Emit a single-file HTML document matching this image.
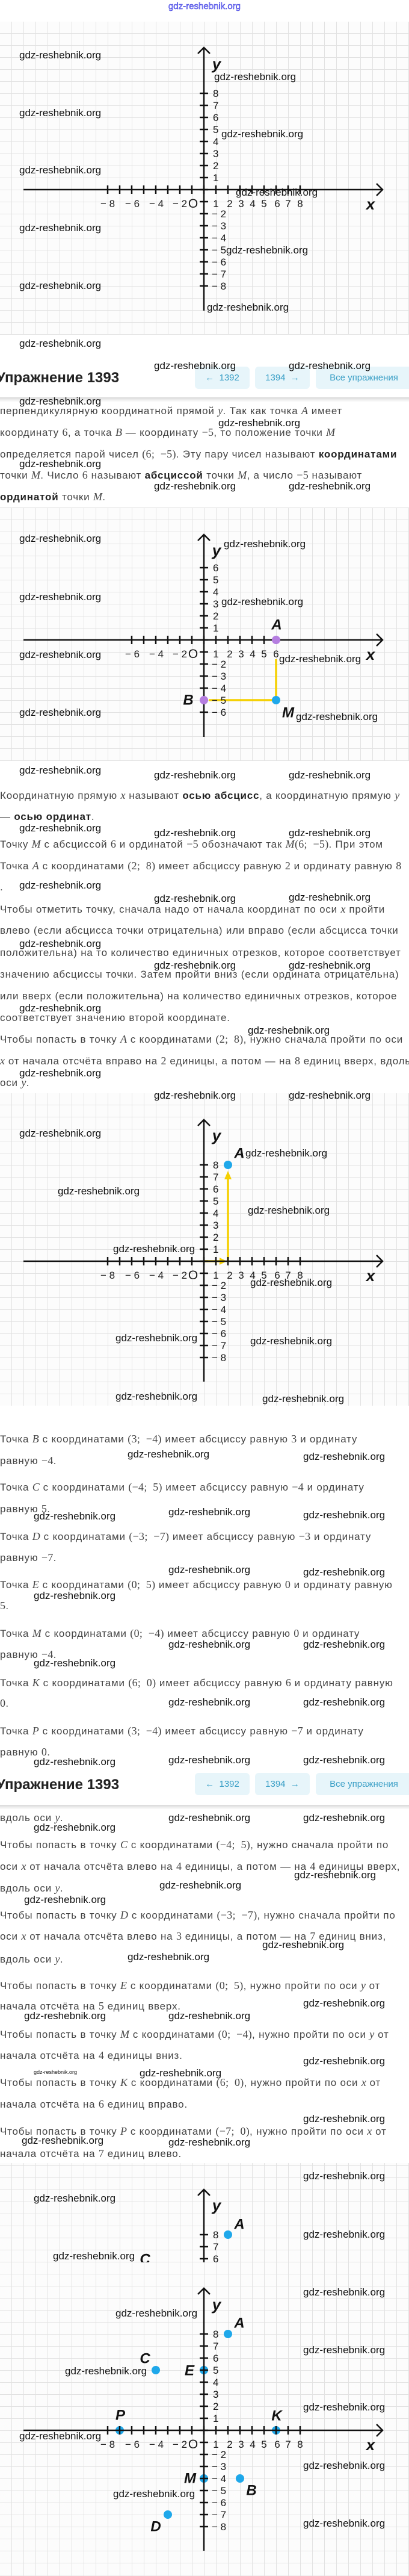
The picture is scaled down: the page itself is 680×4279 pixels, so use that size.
<!DOCTYPE html>
<html><head><meta charset="utf-8">
<style>
*{margin:0;padding:0;box-sizing:border-box}
body{width:680px;height:4279px;position:relative;background:#fff;overflow:hidden;font-family:"Liberation Sans",sans-serif}
.g{position:absolute;left:0;width:680px;background-color:#fcfcfc;background-image:linear-gradient(to right,#e2e2e2 1px,transparent 1px),linear-gradient(to bottom,#e2e2e2 1px,transparent 1px);background-size:20px 20px}
svg.main{position:absolute;left:0;top:0}
.t{position:absolute;left:0;white-space:nowrap;font-size:17px;line-height:20px;color:#454545;letter-spacing:0.8px}
.t b{color:#222}
.m{font-family:"Liberation Serif",serif;font-size:18px;letter-spacing:0.3px}
.m i{font-style:italic}
.w{position:absolute;white-space:nowrap;font-size:17px;line-height:22px;color:#111;font-family:"Liberation Sans",sans-serif;letter-spacing:0}
.h{position:absolute;left:-6px;font-size:24px;font-weight:bold;color:#222;line-height:30px}
.btn{position:absolute;height:37px;background:#e7f5fa;border-radius:6px;color:#3a9fc6;font-size:15px;line-height:37px;text-align:center}
.sh{position:absolute;left:0;width:680px;height:8px;background:linear-gradient(#d8d8d8,#f4f4f4 70%,#fff)}
.ax{stroke:#111;stroke-width:2.5;fill:none}
.tk{stroke:#111;stroke-width:14;stroke-dasharray:2.5 17.5}
.lb text{font-family:"Liberation Sans",sans-serif;font-size:17px;fill:#1a1a1a}
.xm{text-anchor:middle}
.pl{font-family:"Liberation Sans",sans-serif;font-size:24px;font-weight:bold;font-style:italic;fill:#111;text-anchor:middle;dominant-baseline:central}
.xl{font-family:"Liberation Sans",sans-serif;font-size:26px;font-weight:bold;font-style:italic;fill:#111;text-anchor:middle}
</style></head><body>

<div style="position:absolute;left:0;width:680px;top:2px;text-align:center;font-size:15px;color:#9a9aff;-webkit-text-stroke:0.5px #2828d8">gdz-reshebnik.org</div>

<div class="g" style="top:36px;height:520px;background-position:19px 19px"></div>
<div class="g" style="top:843px;height:421px;background-position:19px 0px"></div>
<div class="g" style="top:1816px;height:519px;background-position:19px 19px"></div>
<div class="g" style="top:3593px;height:686px;background-position:19px 4px"></div>

<svg class="main" width="680" height="4279" viewBox="0 0 680 4279">
<defs><clipPath id="cp"><rect x="0" y="3593" width="680" height="165"/></clipPath></defs>

<!-- Graph 1 -->
<g transform="translate(339,315)">
<path class="ax" d="M-300,0H297 M287,-10L297,0L287,10 M0,201V-236 M-10,-226L0,-236L10,-226"/>
<line class="tk" x1="-161.25" y1="0" x2="161.25" y2="0"/>
<line class="tk" x1="0" y1="-161.25" x2="0" y2="161.25"/>
<g class="lb">
<text class="xm" x="-160" y="29">− 8</text><text class="xm" x="-119" y="29">− 6</text><text class="xm" x="-79" y="29">− 4</text><text class="xm" x="-40" y="29">− 2</text><text class="xm" x="-18" y="30" style="font-size:21px">O</text>
<text class="xm" x="20" y="29">1</text><text class="xm" x="43" y="29">2</text><text class="xm" x="62" y="29">3</text><text class="xm" x="81" y="29">4</text><text class="xm" x="100" y="29">5</text><text class="xm" x="122" y="29">6</text><text class="xm" x="140" y="29">7</text><text class="xm" x="160" y="29">8</text>
<text x="15" y="-154">8</text><text x="15" y="-134">7</text><text x="15" y="-114">6</text><text x="15" y="-94">5</text><text x="15" y="-74">4</text><text x="15" y="-54">3</text><text x="15" y="-34">2</text><text x="15" y="-14">1</text>
<text x="13" y="46">− 2</text><text x="13" y="66">− 3</text><text x="13" y="86">− 4</text><text x="13" y="106">− 5</text><text x="13" y="126">− 6</text><text x="13" y="146">− 7</text><text x="13" y="166">− 8</text>
</g>
<text class="xl" x="277" y="33">x</text><text class="xl" x="21" y="-200">y</text>
</g>

<!-- Graph 2 -->
<g transform="translate(339,1063)">
<line x1="8" y1="100" x2="120" y2="100" stroke="#f5d000" stroke-width="3.5"/>
<line x1="120" y1="32" x2="120" y2="100" stroke="#f5d000" stroke-width="3.5"/>
<path class="ax" d="M-300,0H297 M287,-10L297,0L287,10 M0,161V-175 M-10,-165L0,-175L10,-165"/>
<line class="tk" x1="-121.25" y1="0" x2="121.25" y2="0"/>
<line class="tk" x1="0" y1="-121.25" x2="0" y2="121.25"/>
<circle cx="120" cy="0" r="7" fill="#b57ee0"/>
<circle cx="0" cy="100" r="7" fill="#b57ee0"/>
<circle cx="120" cy="100" r="7" fill="#1fa8ea"/>
<g class="lb">
<text class="xm" x="-119" y="29">− 6</text><text class="xm" x="-79" y="29">− 4</text><text class="xm" x="-40" y="29">− 2</text><text class="xm" x="-18" y="30" style="font-size:21px">O</text>
<text class="xm" x="20" y="29">1</text><text class="xm" x="43" y="29">2</text><text class="xm" x="62" y="29">3</text><text class="xm" x="81" y="29">4</text><text class="xm" x="100" y="29">5</text><text class="xm" x="120" y="29">6</text>
<text x="15" y="-114">6</text><text x="15" y="-94">5</text><text x="15" y="-74">4</text><text x="15" y="-54">3</text><text x="15" y="-34">2</text><text x="15" y="-14">1</text>
<text x="13" y="46">− 2</text><text x="13" y="66">− 3</text><text x="13" y="86">− 4</text><text x="13" y="106">− 5</text><text x="13" y="126">− 6</text>
</g>
<text class="xl" x="277" y="33">x</text><text class="xl" x="21" y="-140">y</text>
<text class="pl" x="121" y="-25">A</text><text class="pl" x="-26" y="100">B</text><text class="pl" x="140" y="121">M</text>
</g>

<!-- Graph 3 -->
<g transform="translate(339,2095)">
<line x1="0" y1="0" x2="30" y2="0" stroke="#f5d000" stroke-width="3.5"/>
<polygon points="26,-6 38,0 26,6" fill="#f5d000"/>
<line x1="40" y1="0" x2="40" y2="-140" stroke="#f5d000" stroke-width="3.5"/>
<polygon points="34,-136 40,-150 46,-136" fill="#f5d000"/>
<circle cx="40" cy="-160" r="7" fill="#1fa8ea"/>
<path class="ax" d="M-300,0H297 M287,-10L297,0L287,10 M0,200V-235 M-10,-225L0,-235L10,-225"/>
<line class="tk" x1="-161.25" y1="0" x2="161.25" y2="0"/>
<line class="tk" x1="0" y1="-161.25" x2="0" y2="161.25"/>
<g class="lb">
<text class="xm" x="-160" y="29">− 8</text><text class="xm" x="-119" y="29">− 6</text><text class="xm" x="-79" y="29">− 4</text><text class="xm" x="-40" y="29">− 2</text><text class="xm" x="-18" y="30" style="font-size:21px">O</text>
<text class="xm" x="20" y="29">1</text><text class="xm" x="43" y="29">2</text><text class="xm" x="62" y="29">3</text><text class="xm" x="81" y="29">4</text><text class="xm" x="100" y="29">5</text><text class="xm" x="122" y="29">6</text><text class="xm" x="140" y="29">7</text><text class="xm" x="160" y="29">8</text>
<text x="15" y="-154">8</text><text x="15" y="-134">7</text><text x="15" y="-114">6</text><text x="15" y="-94">5</text><text x="15" y="-74">4</text><text x="15" y="-54">3</text><text x="15" y="-34">2</text><text x="15" y="-14">1</text>
<text x="13" y="46">− 2</text><text x="13" y="66">− 3</text><text x="13" y="86">− 4</text><text x="13" y="106">− 5</text><text x="13" y="126">− 6</text><text x="13" y="146">− 7</text><text x="13" y="166">− 8</text>
</g>
<text class="xl" x="277" y="33">x</text><text class="xl" x="21" y="-200">y</text>
<text class="pl" x="59" y="-179">A</text>
</g>

<!-- Graph 4 partial -->
<g clip-path="url(#cp)">
<g transform="translate(339,3872)">
<circle cx="40" cy="-160" r="7" fill="#1fa8ea"/>
<path class="ax" d="M0,200V-235 M-10,-225L0,-235L10,-225"/>
<line class="tk" x1="0" y1="-161.25" x2="0" y2="161.25"/>
<g class="lb"><text x="15" y="-154">8</text><text x="15" y="-134">7</text><text x="15" y="-114">6</text></g>
<text class="xl" x="21" y="-200">y</text>
<text class="pl" x="59" y="-177">A</text><text class="pl" x="-98" y="-119">C</text>
</g></g>

<!-- Graph 4 full -->
<g transform="translate(339,4037)">
<circle cx="40" cy="-160" r="7" fill="#1fa8ea"/>
<circle cx="-80" cy="-100" r="7" fill="#1fa8ea"/>
<circle cx="0" cy="-100" r="7" fill="#1fa8ea"/>
<circle cx="-140" cy="0" r="7" fill="#1fa8ea"/>
<circle cx="120" cy="0" r="7" fill="#1fa8ea"/>
<circle cx="0" cy="80" r="7" fill="#1fa8ea"/>
<circle cx="60" cy="80" r="7" fill="#1fa8ea"/>
<circle cx="-60" cy="140" r="7" fill="#1fa8ea"/>
<path class="ax" d="M-300,0H297 M287,-10L297,0L287,10 M0,200V-236 M-10,-226L0,-236L10,-226"/>
<line class="tk" x1="-161.25" y1="0" x2="161.25" y2="0"/>
<line class="tk" x1="0" y1="-161.25" x2="0" y2="161.25"/>
<g class="lb">
<text class="xm" x="-160" y="29">− 8</text><text class="xm" x="-119" y="29">− 6</text><text class="xm" x="-79" y="29">− 4</text><text class="xm" x="-40" y="29">− 2</text><text class="xm" x="-18" y="30" style="font-size:21px">O</text>
<text class="xm" x="20" y="29">1</text><text class="xm" x="43" y="29">2</text><text class="xm" x="62" y="29">3</text><text class="xm" x="81" y="29">4</text><text class="xm" x="100" y="29">5</text><text class="xm" x="122" y="29">6</text><text class="xm" x="140" y="29">7</text><text class="xm" x="160" y="29">8</text>
<text x="15" y="-154">8</text><text x="15" y="-134">7</text><text x="15" y="-114">6</text><text x="15" y="-94">5</text><text x="15" y="-74">4</text><text x="15" y="-54">3</text><text x="15" y="-34">2</text><text x="15" y="-14">1</text>
<text x="13" y="46">− 2</text><text x="13" y="66">− 3</text><text x="13" y="86">− 4</text><text x="13" y="106">− 5</text><text x="13" y="126">− 6</text><text x="13" y="146">− 7</text><text x="13" y="166">− 8</text>
</g>
<text class="xl" x="277" y="33">x</text><text class="xl" x="21" y="-200">y</text>
<text class="pl" x="59" y="-178">A</text><text class="pl" x="-98" y="-119">C</text><text class="pl" x="-24" y="-99">E</text>
<text class="pl" x="-139" y="-25">P</text><text class="pl" x="121" y="-24">K</text><text class="pl" x="-23" y="80">M</text>
<text class="pl" x="79" y="100">B</text><text class="pl" x="-80" y="160">D</text>
</g>
</svg>

<!-- Header 1 -->
<div class="h" style="top:613px">Упражнение 1393</div>
<div class="btn" style="left:324px;top:609px;width:91px">←&nbsp;&nbsp;1392</div>
<div class="btn" style="left:424px;top:609px;width:91px">1394&nbsp;&nbsp;→</div>
<div class="btn" style="left:525px;top:609px;width:160px">Все упражнения</div>
<div class="sh" style="top:660px"></div>

<!-- Header 2 -->
<div class="h" style="top:2950px">Упражнение 1393</div>
<div class="btn" style="left:324px;top:2945px;width:91px">←&nbsp;&nbsp;1392</div>
<div class="btn" style="left:424px;top:2945px;width:91px">1394&nbsp;&nbsp;→</div>
<div class="btn" style="left:525px;top:2945px;width:160px">Все упражнения</div>
<div class="sh" style="top:2998px"></div>

<!-- Text -->
<div class="t" style="top:672px">перпендикулярную координатной прямой <span class="m"><i>y</i></span>. Так как точка <span class="m"><i>A</i></span> имеет</div>
<div class="t" style="top:708px">координату <span class="m">6</span>, а точка <span class="m"><i>B</i></span> — координату <span class="m">−5</span>, то положение точки <span class="m"><i>M</i></span></div>
<div class="t" style="top:744px">определяется парой чисел <span class="m">(6; &nbsp;−5)</span>. Эту пару чисел называют <b>координатами</b></div>
<div class="t" style="top:779px">точки <span class="m"><i>M</i></span>. Число <span class="m">6</span> называют <b>абсциссой</b> точки <span class="m"><i>M</i></span>, а число <span class="m">−5</span> называют</div>
<div class="t" style="top:815px"><b>ординатой</b> точки <span class="m"><i>M</i></span>.</div>

<div class="t" style="top:1311px">Координатную прямую <span class="m"><i>x</i></span> называют <b>осью абсцисс</b>, а координатную прямую <span class="m"><i>y</i></span></div>
<div class="t" style="top:1347px">— <b>осью ординат</b>.</div>
<div class="t" style="top:1392px">Точку <span class="m"><i>M</i></span> с абсциссой <span class="m">6</span> и ординатой <span class="m">−5</span> обозначают так <span class="m"><i>M</i>(6; &nbsp;−5)</span>. При этом</div>
<div class="t" style="top:1428px">Точка <span class="m"><i>A</i></span> с координатами <span class="m">(2; &nbsp;8)</span> имеет абсциссу равную <span class="m">2</span> и ординату равную <span class="m">8</span></div>
<div class="t" style="top:1464px">.</div>
<div class="t" style="top:1500px">Чтобы отметить точку, сначала надо от начала координат по оси <span class="m"><i>x</i></span> пройти</div>
<div class="t" style="top:1536px">влево (если абсцисса точки отрицательна) или вправо (если абсцисса точки</div>
<div class="t" style="top:1573px">положительна) на то количество единичных отрезков, которое соответствует</div>
<div class="t" style="top:1609px">значению абсциссы точки. Затем пройти вниз (если ордината отрицательна)</div>
<div class="t" style="top:1645px">или вверх (если положительна) на количество единичных отрезков, которое</div>
<div class="t" style="top:1681px">соответствует значению второй координате.</div>
<div class="t" style="top:1716px">Чтобы попасть в точку <span class="m"><i>A</i></span> с координатами <span class="m">(2; &nbsp;8)</span>, нужно сначала пройти по оси</div>
<div class="t" style="top:1752px"><span class="m"><i>x</i></span> от начала отсчёта вправо на <span class="m">2</span> единицы, а потом — на <span class="m">8</span> единиц вверх, вдоль</div>
<div class="t" style="top:1788px">оси <span class="m"><i>y</i></span>.</div>

<div class="t" style="top:2380px">Точка <span class="m"><i>B</i></span> с координатами <span class="m">(3; &nbsp;−4)</span> имеет абсциссу равную <span class="m">3</span> и ординату</div>
<div class="t" style="top:2416px">равную <span class="m">−4</span>.</div>
<div class="t" style="top:2460px">Точка <span class="m"><i>C</i></span> с координатами <span class="m">(−4; &nbsp;5)</span> имеет абсциссу равную <span class="m">−4</span> и ординату</div>
<div class="t" style="top:2496px">равную <span class="m">5</span>.</div>
<div class="t" style="top:2542px">Точка <span class="m"><i>D</i></span> с координатами <span class="m">(−3; &nbsp;−7)</span> имеет абсциссу равную <span class="m">−3</span> и ординату</div>
<div class="t" style="top:2577px">равную <span class="m">−7</span>.</div>
<div class="t" style="top:2622px">Точка <span class="m"><i>E</i></span> с координатами <span class="m">(0; &nbsp;5)</span> имеет абсциссу равную <span class="m">0</span> и ординату равную</div>
<div class="t" style="top:2657px"><span class="m">5</span>.</div>
<div class="t" style="top:2703px">Точка <span class="m"><i>M</i></span> с координатами <span class="m">(0; &nbsp;−4)</span> имеет абсциссу равную <span class="m">0</span> и ординату</div>
<div class="t" style="top:2738px">равную <span class="m">−4</span>.</div>
<div class="t" style="top:2785px">Точка <span class="m"><i>K</i></span> с координатами <span class="m">(6; &nbsp;0)</span> имеет абсциссу равную <span class="m">6</span> и ординату равную</div>
<div class="t" style="top:2819px"><span class="m">0</span>.</div>
<div class="t" style="top:2865px">Точка <span class="m"><i>P</i></span> с координатами <span class="m">(3; &nbsp;−4)</span> имеет абсциссу равную <span class="m">−7</span> и ординату</div>
<div class="t" style="top:2900px">равную <span class="m">0</span>.</div>

<div class="t" style="top:3009px">вдоль оси <span class="m"><i>y</i></span>.</div>
<div class="t" style="top:3054px">Чтобы попасть в точку <span class="m"><i>C</i></span> с координатами <span class="m">(−4; &nbsp;5)</span>, нужно сначала пройти по</div>
<div class="t" style="top:3090px">оси <span class="m"><i>x</i></span> от начала отсчёта влево на <span class="m">4</span> единицы, а потом — на <span class="m">4</span> единицы вверх,</div>
<div class="t" style="top:3126px">вдоль оси <span class="m"><i>y</i></span>.</div>
<div class="t" style="top:3171px">Чтобы попасть в точку <span class="m"><i>D</i></span> с координатами <span class="m">(−3; &nbsp;−7)</span>, нужно сначала пройти по</div>
<div class="t" style="top:3206px">оси <span class="m"><i>x</i></span> от начала отсчёта влево на <span class="m">3</span> единицы, а потом — на <span class="m">7</span> единиц вниз,</div>
<div class="t" style="top:3244px">вдоль оси <span class="m"><i>y</i></span>.</div>
<div class="t" style="top:3288px">Чтобы попасть в точку <span class="m"><i>E</i></span> с координатами <span class="m">(0; &nbsp;5)</span>, нужно пройти по оси <span class="m"><i>y</i></span> от</div>
<div class="t" style="top:3322px">начала отсчёта на <span class="m">5</span> единиц вверх.</div>
<div class="t" style="top:3369px">Чтобы попасть в точку <span class="m"><i>M</i></span> с координатами <span class="m">(0; &nbsp;−4)</span>, нужно пройти по оси <span class="m"><i>y</i></span> от</div>
<div class="t" style="top:3404px">начала отсчёта на <span class="m">4</span> единицы вниз.</div>
<div class="t" style="top:3449px">Чтобы попасть в точку <span class="m"><i>K</i></span> с координатами <span class="m">(6; &nbsp;0)</span>, нужно пройти по оси <span class="m"><i>x</i></span> от</div>
<div class="t" style="top:3485px">начала отсчёта на <span class="m">6</span> единиц вправо.</div>
<div class="t" style="top:3530px">Чтобы попасть в точку <span class="m"><i>P</i></span> с координатами <span class="m">(−7; &nbsp;0)</span>, нужно пройти по оси <span class="m"><i>x</i></span> от</div>
<div class="t" style="top:3567px">начала отсчёта на <span class="m">7</span> единиц влево.</div>

<!-- Watermarks -->
<div class="w" style="left:32px;top:81px">gdz-reshebnik.org</div>
<div class="w" style="left:32px;top:177px">gdz-reshebnik.org</div>
<div class="w" style="left:32px;top:272px">gdz-reshebnik.org</div>
<div class="w" style="left:32px;top:368px">gdz-reshebnik.org</div>
<div class="w" style="left:32px;top:464px">gdz-reshebnik.org</div>
<div class="w" style="left:32px;top:560px">gdz-reshebnik.org</div>
<div class="w" style="left:32px;top:656px">gdz-reshebnik.org</div>
<div class="w" style="left:356px;top:117px">gdz-reshebnik.org</div>
<div class="w" style="left:368px;top:212px">gdz-reshebnik.org</div>
<div class="w" style="left:392px;top:309px">gdz-reshebnik.org</div>
<div class="w" style="left:376px;top:405px">gdz-reshebnik.org</div>
<div class="w" style="left:344px;top:500px">gdz-reshebnik.org</div>
<div class="w" style="left:256px;top:597px">gdz-reshebnik.org</div>
<div class="w" style="left:480px;top:597px">gdz-reshebnik.org</div>

<div class="w" style="left:363px;top:692px">gdz-reshebnik.org</div>
<div class="w" style="left:32px;top:760px">gdz-reshebnik.org</div>
<div class="w" style="left:256px;top:797px">gdz-reshebnik.org</div>
<div class="w" style="left:480px;top:797px">gdz-reshebnik.org</div>
<div class="w" style="left:32px;top:884px">gdz-reshebnik.org</div>
<div class="w" style="left:372px;top:893px">gdz-reshebnik.org</div>
<div class="w" style="left:32px;top:981px">gdz-reshebnik.org</div>
<div class="w" style="left:368px;top:989px">gdz-reshebnik.org</div>
<div class="w" style="left:32px;top:1077px">gdz-reshebnik.org</div>
<div class="w" style="left:464px;top:1084px">gdz-reshebnik.org</div>
<div class="w" style="left:32px;top:1173px">gdz-reshebnik.org</div>
<div class="w" style="left:492px;top:1180px">gdz-reshebnik.org</div>
<div class="w" style="left:32px;top:1269px">gdz-reshebnik.org</div>
<div class="w" style="left:256px;top:1277px">gdz-reshebnik.org</div>
<div class="w" style="left:480px;top:1277px">gdz-reshebnik.org</div>
<div class="w" style="left:32px;top:1365px">gdz-reshebnik.org</div>
<div class="w" style="left:256px;top:1373px">gdz-reshebnik.org</div>
<div class="w" style="left:480px;top:1373px">gdz-reshebnik.org</div>
<div class="w" style="left:32px;top:1460px">gdz-reshebnik.org</div>
<div class="w" style="left:256px;top:1482px">gdz-reshebnik.org</div>
<div class="w" style="left:480px;top:1480px">gdz-reshebnik.org</div>

<div class="w" style="left:32px;top:1557px">gdz-reshebnik.org</div>
<div class="w" style="left:256px;top:1593px">gdz-reshebnik.org</div>
<div class="w" style="left:480px;top:1593px">gdz-reshebnik.org</div>
<div class="w" style="left:32px;top:1664px">gdz-reshebnik.org</div>
<div class="w" style="left:412px;top:1701px">gdz-reshebnik.org</div>
<div class="w" style="left:32px;top:1772px">gdz-reshebnik.org</div>
<div class="w" style="left:256px;top:1809px">gdz-reshebnik.org</div>
<div class="w" style="left:480px;top:1809px">gdz-reshebnik.org</div>
<div class="w" style="left:32px;top:1872px">gdz-reshebnik.org</div>
<div class="w" style="left:408px;top:1905px">gdz-reshebnik.org</div>
<div class="w" style="left:96px;top:1968px">gdz-reshebnik.org</div>
<div class="w" style="left:412px;top:2000px">gdz-reshebnik.org</div>
<div class="w" style="left:188px;top:2064px">gdz-reshebnik.org</div>
<div class="w" style="left:416px;top:2120px">gdz-reshebnik.org</div>
<div class="w" style="left:192px;top:2212px">gdz-reshebnik.org</div>
<div class="w" style="left:416px;top:2217px">gdz-reshebnik.org</div>
<div class="w" style="left:192px;top:2309px">gdz-reshebnik.org</div>
<div class="w" style="left:436px;top:2313px">gdz-reshebnik.org</div>

<div class="w" style="left:212px;top:2405px">gdz-reshebnik.org</div>
<div class="w" style="left:504px;top:2409px">gdz-reshebnik.org</div>
<div class="w" style="left:56px;top:2508px">gdz-reshebnik.org</div>
<div class="w" style="left:280px;top:2501px">gdz-reshebnik.org</div>
<div class="w" style="left:504px;top:2506px">gdz-reshebnik.org</div>
<div class="w" style="left:280px;top:2597px">gdz-reshebnik.org</div>
<div class="w" style="left:504px;top:2601px">gdz-reshebnik.org</div>
<div class="w" style="left:56px;top:2640px">gdz-reshebnik.org</div>
<div class="w" style="left:280px;top:2721px">gdz-reshebnik.org</div>
<div class="w" style="left:504px;top:2721px">gdz-reshebnik.org</div>
<div class="w" style="left:56px;top:2752px">gdz-reshebnik.org</div>
<div class="w" style="left:280px;top:2817px">gdz-reshebnik.org</div>
<div class="w" style="left:504px;top:2817px">gdz-reshebnik.org</div>
<div class="w" style="left:56px;top:2916px">gdz-reshebnik.org</div>
<div class="w" style="left:280px;top:2913px">gdz-reshebnik.org</div>
<div class="w" style="left:504px;top:2913px">gdz-reshebnik.org</div>
<div class="w" style="left:280px;top:3009px">gdz-reshebnik.org</div>
<div class="w" style="left:504px;top:3009px">gdz-reshebnik.org</div>
<div class="w" style="left:56px;top:3025px">gdz-reshebnik.org</div>
<div class="w" style="left:489px;top:3104px">gdz-reshebnik.org</div>
<div class="w" style="left:265px;top:3121px">gdz-reshebnik.org</div>
<div class="w" style="left:40px;top:3145px">gdz-reshebnik.org</div>
<div class="w" style="left:436px;top:3220px">gdz-reshebnik.org</div>
<div class="w" style="left:212px;top:3240px">gdz-reshebnik.org</div>

<div class="w" style="left:504px;top:3317px">gdz-reshebnik.org</div>
<div class="w" style="left:40px;top:3338px">gdz-reshebnik.org</div>
<div class="w" style="left:280px;top:3338px">gdz-reshebnik.org</div>
<div class="w" style="left:504px;top:3413px">gdz-reshebnik.org</div>
<div class="w" style="left:56px;top:3436px;font-size:9px;line-height:12px">gdz-reshebnik.org</div>
<div class="w" style="left:232px;top:3433px">gdz-reshebnik.org</div>
<div class="w" style="left:504px;top:3509px">gdz-reshebnik.org</div>
<div class="w" style="left:36px;top:3545px">gdz-reshebnik.org</div>
<div class="w" style="left:280px;top:3548px">gdz-reshebnik.org</div>
<div class="w" style="left:504px;top:3604px">gdz-reshebnik.org</div>
<div class="w" style="left:56px;top:3641px">gdz-reshebnik.org</div>
<div class="w" style="left:504px;top:3701px">gdz-reshebnik.org</div>
<div class="w" style="left:88px;top:3737px">gdz-reshebnik.org</div>
<div class="w" style="left:504px;top:3797px">gdz-reshebnik.org</div>
<div class="w" style="left:192px;top:3832px">gdz-reshebnik.org</div>
<div class="w" style="left:504px;top:3893px">gdz-reshebnik.org</div>
<div class="w" style="left:108px;top:3928px">gdz-reshebnik.org</div>
<div class="w" style="left:504px;top:3988px">gdz-reshebnik.org</div>
<div class="w" style="left:32px;top:4036px">gdz-reshebnik.org</div>
<div class="w" style="left:504px;top:4085px">gdz-reshebnik.org</div>
<div class="w" style="left:188px;top:4132px">gdz-reshebnik.org</div>
<div class="w" style="left:504px;top:4181px">gdz-reshebnik.org</div>
</body></html>
